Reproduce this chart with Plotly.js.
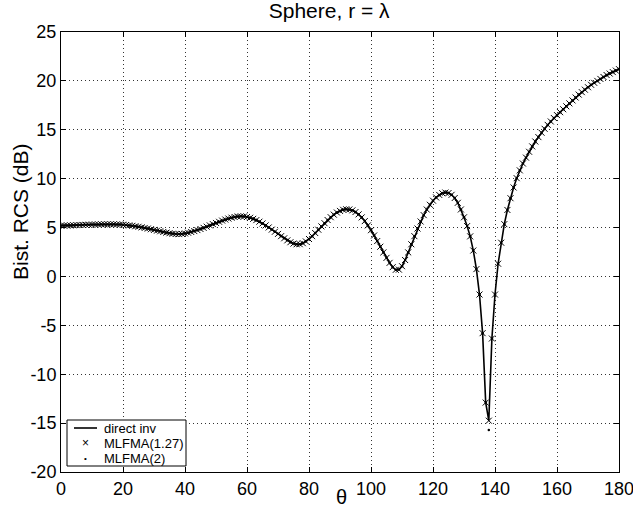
<!DOCTYPE html>
<html>
<head>
<meta charset="utf-8">
<script src="https://cdn.plot.ly/plotly-3.0.1.min.js"></script>
<style>html,body{margin:0;padding:0;background:#fff;}#chart{width:633px;height:514px;}</style>
</head>
<body>
<div id="chart"></div>
<script>
// theta in degrees, 0..180 step 1
const theta = [];
for (let i = 0; i <= 180; i++) theta.push(i);

// Bistatic RCS (dB), direct inversion
const directInv = [
 5.20,5.20,5.21,5.22,5.23,5.25,5.26,5.27,5.28,5.29,
 5.30,5.31,5.32,5.33,5.34,5.34,5.34,5.33,5.32,5.31,
 5.29,5.26,5.22,5.18,5.13,5.08,5.02,4.96,4.90,4.83,
 4.76,4.69,4.62,4.55,4.48,4.42,4.37,4.34,4.33,4.35,
 4.40,4.47,4.55,4.64,4.74,4.85,4.97,5.09,5.22,5.35,
 5.47,5.59,5.71,5.82,5.92,6.01,6.08,6.13,6.15,6.13,
 6.08,6.00,5.89,5.76,5.60,5.42,5.22,5.01,4.79,4.57,
 4.35,4.12,3.90,3.69,3.50,3.36,3.29,3.30,3.40,3.58,
 3.83,4.12,4.44,4.78,5.12,5.45,5.77,6.06,6.32,6.54,
 6.70,6.82,6.87,6.85,6.76,6.59,6.35,6.04,5.66,5.22,
 4.73,4.19,3.62,3.04,2.46,1.90,1.39,0.95,0.68,0.70,
 1.05,1.68,2.46,3.29,4.12,4.90,5.62,6.27,6.84,7.33,
 7.75,8.08,8.34,8.51,8.58,8.53,8.35,8.02,7.53,6.85,
 6.05,5.15,4.10,2.65,0.75,-1.85,-5.80,-12.90,-14.75,-6.35,
 -1.85,1.30,3.45,5.35,6.80,8.00,9.10,10.05,10.85,11.55,
 12.15,12.75,13.30,13.80,14.25,14.70,15.10,15.50,15.85,16.20,
 16.50,16.80,17.10,17.40,17.70,18.00,18.30,18.60,18.85,19.10,
 19.35,19.60,19.80,20.00,20.20,20.40,20.60,20.75,20.90,21.05,
 21.20
];

// MLFMA results coincide with direct inversion except near the null
const mlfma127 = directInv.slice();
const mlfma2 = directInv.slice();
mlfma2[138] = -15.70;

const xTicks = [0,20,40,60,80,100,120,140,160,180];
const yTicks = [-20,-15,-10,-5,0,5,10,15,20,25];
const legendNames = ['direct inv', 'MLFMA(1.27)', 'MLFMA(2)'];

const fontFam = 'Liberation Sans, Arial, Helvetica, sans-serif';

const traces = [
  {x: theta, y: directInv, type: 'scatter', mode: 'lines', name: legendNames[0],
   line: {color: '#000', width: 1.6}},
  {x: theta, y: mlfma127, type: 'scatter', mode: 'markers', name: legendNames[1],
   marker: {symbol: 'x-thin-open', size: 6, color: '#000', line: {color: '#000', width: 1}}},
  {x: theta, y: mlfma2, type: 'scatter', mode: 'markers', name: legendNames[2],
   marker: {symbol: 'circle', size: 2.5, color: '#000'}}
];

const axisCommon = {
  showline: true, linecolor: '#000', linewidth: 1, mirror: 'ticks',
  ticks: 'inside', ticklen: 5, tickcolor: '#000',
  showgrid: true, gridcolor: '#333', gridwidth: 1, griddash: '1px,3px',
  zeroline: false, ticklabeloverflow: 'allow',
  tickfont: {family: fontFam, size: 18, color: '#000'}
};

// plot area size in px (for placing the hand-built legend box)
const W = 558, H = 440;
const px = v => v / W;
const pyTop = v => 1 - v / H;

const shapes = [
  {type: 'rect', xref: 'paper', yref: 'paper', x0: px(6), x1: px(125), y0: pyTop(434), y1: pyTop(388),
   line: {color: '#000', width: 1}, fillcolor: '#fff', layer: 'above'},
  {type: 'line', xref: 'paper', yref: 'paper', x0: px(13), x1: px(36), y0: pyTop(396), y1: pyTop(396),
   line: {color: '#000', width: 1.6}, layer: 'above'}
];
const annFont = {family: fontFam, size: 13, color: '#000'};
const annotations = [];
legendNames.forEach((n, i) => {
  annotations.push({xref: 'paper', yref: 'paper', x: px(41), y: pyTop(396 + 15 * i),
    xanchor: 'left', yanchor: 'middle', text: n, showarrow: false, font: annFont});
});
annotations.push({xref: 'paper', yref: 'paper', x: px(24.5), y: pyTop(411), xanchor: 'center', yanchor: 'middle',
  text: '×', showarrow: false, font: {family: fontFam, size: 12, color: '#000'}});
annotations.push({xref: 'paper', yref: 'paper', x: px(24.5), y: pyTop(426), xanchor: 'center', yanchor: 'middle',
  text: '•', showarrow: false, font: {family: fontFam, size: 8, color: '#000'}});
// axis titles
annotations.push({xref: 'paper', yref: 'paper', x: px(280), y: pyTop(465), xanchor: 'center', yanchor: 'middle',
  text: 'θ', showarrow: false, font: {family: fontFam, size: 20, color: '#000'}});
annotations.push({xref: 'paper', yref: 'paper', x: px(-41), y: pyTop(180), xanchor: 'center', yanchor: 'middle',
  text: 'Bist. RCS (dB)', textangle: -90, showarrow: false, font: {family: fontFam, size: 21, color: '#000'}});

const layout = {
  width: 633, height: 514,
  margin: {l: 61, r: 14, t: 32, b: 42},
  paper_bgcolor: '#fff', plot_bgcolor: '#fff',
  title: {text: 'Sphere, r = λ', font: {family: fontFam, size: 21, color: '#000'},
          x: 0.52, xanchor: 'center', y: 0.993, yanchor: 'top'},
  xaxis: Object.assign({}, axisCommon, {
    range: [0, 180], tickvals: xTicks, ticktext: xTicks.map(String)
  }),
  yaxis: Object.assign({}, axisCommon, {
    range: [-20, 25], tickvals: yTicks, ticktext: yTicks.map(String)
  }),
  showlegend: false,
  shapes: shapes,
  annotations: annotations
};

Plotly.newPlot('chart', traces, layout, {staticPlot: true, displayModeBar: false});
</script>
</body>
</html>
